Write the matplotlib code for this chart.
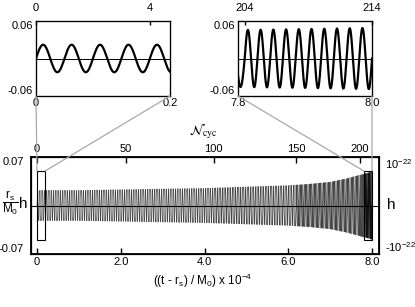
import numpy as np
import matplotlib
matplotlib.use("Agg")
import matplotlib.pyplot as plt
from matplotlib.patches import Rectangle, ConnectionPatch

plt.rcParams['font.family'] = ['Liberation Sans', 'DejaVu Sans']
plt.rcParams['mathtext.fontset'] = 'custom'
plt.rcParams['mathtext.rm'] = 'Liberation Sans'
plt.rcParams['mathtext.it'] = 'Liberation Sans:italic'
plt.rcParams['mathtext.bf'] = 'Liberation Sans:bold'

# ---- data ----
# cycle count N_cyc at times (t - r_s)/M0 in units of 1e4 (from top axes)
t_phase = [0.0, 0.17, 2.12, 4.22, 6.19, 7.71, 7.81, 8.0]
n_cycles = [0, 4, 50, 100, 150, 200, 204, 214]
# amplitude envelope of r_s/M0 h
t_env = [0.0, 1.0, 2.0, 3.0, 4.0, 5.0, 6.0, 6.5, 7.0, 7.4, 7.7, 7.9, 8.0]
amp_env = [0.022, 0.022, 0.023, 0.024, 0.025, 0.027, 0.029, 0.031, 0.034,
           0.039, 0.044, 0.047, 0.049]

main_xticks = [0, 2, 4, 6, 8]
main_xticklabels = ['0', '2.0', '4.0', '6.0', '8.0']
main_top_ticks = [0, 50, 100, 150, 200]
main_ylim = [-0.07, 0.07]
main_yticklabels = ['-0.07', '0.07']
right_yticks = [-1, 1]
right_yticklabels = ['-10$^{-22}$', '10$^{-22}$']

zoom_windows = [(0.0, 0.2), (7.8, 8.0)]
zoom_box_half = 0.05
inset_bottom_labels = [['0', '0.2'], ['7.8', '8.0']]
inset_top_ticks = [[0, 4], [204, 214]]
inset_ylim = [-0.06, 0.06]
inset_yticklabels = ['-0.06', '0.06']


def waveform(t):
    n = np.interp(t, t_phase, n_cycles)
    a = np.interp(t, t_env, amp_env)
    return a * np.sin(2 * np.pi * n)


W, H = 415, 307
fig = plt.figure(figsize=(W / 100, H / 100), dpi=100)

ax = fig.add_axes([31 / W, 1 - 254 / H, 348 / W, 97 / H])
t = np.linspace(t_phase[0], t_phase[-1], 30000)
ax.plot(t, waveform(t), color='#111111', lw=0.28)
ax.axhline(0, color='black', lw=0.8)
ax.set_xlim(-6 / 41.875, 8 + 7 / 41.875)
ax.set_ylim(main_ylim)
ax.set_xticks(main_xticks)
ax.set_xticklabels(main_xticklabels)
ax.set_yticks(main_ylim)
ax.set_yticklabels(main_yticklabels)
ax.tick_params(axis='x', direction='in', length=4, width=1.0, labelsize=8, pad=2)
ax.tick_params(axis='y', length=0, labelsize=8, pad=5)
ylabs = ax.get_yticklabels()
ylabs[0].set_va('bottom')
ylabs[1].set_va('top')
for s in ax.spines.values():
    s.set_linewidth(1.3)

for (x0, x1) in zoom_windows:
    ax.add_patch(Rectangle((x0, -zoom_box_half), x1 - x0, 2 * zoom_box_half,
                           fill=False, ec='black', lw=0.8, zorder=5))

axt = ax.twiny()
axt.set_xlim(ax.get_xlim())
axt.set_xticks(np.interp(main_top_ticks, n_cycles, t_phase))
axt.set_xticklabels([str(v) for v in main_top_ticks])
axt.tick_params(axis='x', direction='in', length=4, width=1.0, labelsize=8, pad=2)

axr = ax.twinx()
axr.set_ylim(-1, 1)
axr.set_yticks(right_yticks)
axr.set_yticklabels(right_yticklabels)
axr.tick_params(axis='y', length=0, labelsize=8, pad=4)
rl = axr.get_yticklabels()
rl[0].set_va('bottom')
rl[1].set_va('top')

fig.text(10 / W, 1 - 203 / H, r'$\dfrac{\mathrm{r_s}}{\mathrm{M_0}}$',
         ha='center', va='center', fontsize=8.5)
fig.text(23 / W, 1 - 204 / H, 'h', ha='center', va='center', fontsize=11)
fig.text(391 / W, 1 - 205 / H, 'h', ha='center', va='center', fontsize=11)
fig.text(203 / W, 1 - 281 / H,
         r'((t - r$_\mathrm{s}$) / M$_0$) x 10$^{-4}$',
         ha='center', va='center', fontsize=8.5)
fig.text(203 / W, 1 - 131 / H, r'$\mathcal{N}_{\rm cyc}$', math_fontfamily='stix',
         ha='center', va='center', fontsize=10)

inset_lefts = [36, 238]
for i, (x0, x1) in enumerate(zoom_windows):
    axi = fig.add_axes([inset_lefts[i] / W, 1 - 96 / H, 134 / W, 75 / H])
    ti = np.linspace(x0, x1, 2000)
    axi.plot(ti, waveform(ti), color='black', lw=1.6)
    axi.axhline(0, color='black', lw=0.7)
    axi.set_xlim(x0, x1)
    axi.set_ylim(inset_ylim)
    axi.set_xticks([x0, x1])
    axi.set_xticklabels(inset_bottom_labels[i])
    axi.set_yticks(inset_ylim)
    axi.set_yticklabels(inset_yticklabels)
    axi.tick_params(axis='x', length=0, labelsize=8, pad=1.5)
    axi.tick_params(axis='y', length=0, labelsize=8, pad=2)
    yl = axi.get_yticklabels()
    yl[0].set_va('bottom')
    yl[1].set_va('top')
    for s in axi.spines.values():
        s.set_linewidth(0.9)
    ait = axi.twiny()
    ait.set_xlim(x0, x1)
    ait.set_xticks(np.interp(inset_top_ticks[i], n_cycles, t_phase))
    ait.set_xticklabels([str(v) for v in inset_top_ticks[i]])
    ait.tick_params(axis='x', direction='in', length=3, width=1.0, labelsize=8, pad=6)
    for xa, xd in ((0, x0), (1, x1)):
        cp = ConnectionPatch(xyA=(xa, 0), coordsA=axi.transAxes,
                             xyB=(xd, zoom_box_half), coordsB=ax.transData,
                             color='#a8a8a8', lw=0.9)
        fig.add_artist(cp)

fig.savefig('out.png', dpi=100)
